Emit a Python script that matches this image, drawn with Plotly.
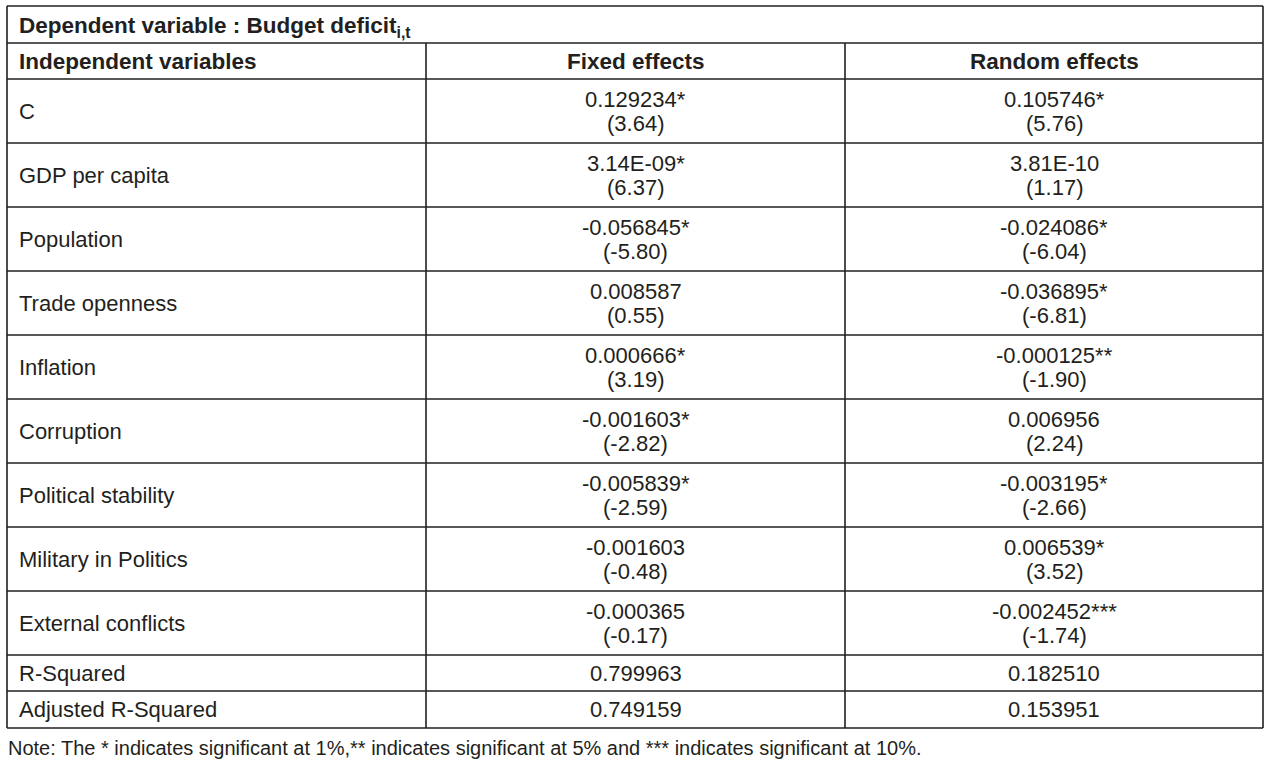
import plotly.graph_objects as go

# ---- data ----
variables = ["C", "GDP per capita", "Population", "Trade openness", "Inflation",
             "Corruption", "Political stability", "Military in Politics", "External conflicts"]
fe_coef = ["0.129234*", "3.14E-09*", "-0.056845*", "0.008587", "0.000666*",
           "-0.001603*", "-0.005839*", "-0.001603", "-0.000365"]
fe_t = ["(3.64)", "(6.37)", "(-5.80)", "(0.55)", "(3.19)",
        "(-2.82)", "(-2.59)", "(-0.48)", "(-0.17)"]
re_coef = ["0.105746*", "3.81E-10", "-0.024086*", "-0.036895*", "-0.000125**",
           "0.006956", "-0.003195*", "0.006539*", "-0.002452***"]
re_t = ["(5.76)", "(1.17)", "(-6.04)", "(-6.81)", "(-1.90)",
        "(2.24)", "(-2.66)", "(3.52)", "(-1.74)"]
fit_names = ["R-Squared", "Adjusted R-Squared"]
fe_fit = ["0.799963", "0.749159"]
re_fit = ["0.182510", "0.153951"]

title_text = "Dependent variable : Budget deficit"
title_sub = "i,t"
col_headers = ["Independent variables", "Fixed effects", "Random effects"]
note = ("Note: The * indicates significant at 1%,** indicates significant at 5% "
        "and *** indicates significant at 10%.")

# ---- layout geometry ----
W, H = 1271, 767
x_left, x_c1, x_c2, x_right = 7, 426, 845, 1263
y_top, y_h1, y_h2 = 6, 43, 79
row_h = 64
fit_h = [36, 37]
FONT = "Liberation Sans"
TXT = "#231f20"
LINE = "#231f20"
FS = 22
FSB = 22.5

row_edges = [y_h2 + i * row_h for i in range(len(variables) + 1)]
fit_edges = [row_edges[-1]]
for h in fit_h:
    fit_edges.append(fit_edges[-1] + h)
y_bottom = fit_edges[-1]

fig = go.Figure()
fig.add_trace(go.Scatter(x=[0, W], y=[0, H], mode="markers",
                         marker=dict(opacity=0), hoverinfo="skip", showlegend=False))

shapes = []
def hline(y, x0=x_left, x1=x_right):
    shapes.append(dict(type="line", xref="x", yref="y", x0=x0, x1=x1, y0=y, y1=y,
                       line=dict(color=LINE, width=1.6)))
def vline(x, y0, y1):
    shapes.append(dict(type="line", xref="x", yref="y", x0=x, x1=x, y0=y0, y1=y1,
                       line=dict(color=LINE, width=1.6)))

for y in [y_top, y_h1, y_h2] + row_edges[1:] + fit_edges[1:]:
    hline(y)
vline(x_left, y_top, y_bottom)
vline(x_right, y_top, y_bottom)
vline(x_c1, y_h1, y_bottom)
vline(x_c2, y_h1, y_bottom)

ann = []
def text(x, y, s, anchor="center", bold=False, size=FS):
    ann.append(dict(x=x, y=y, xref="x", yref="y", text=f"<b>{s}</b>" if bold else s,
                    showarrow=False, xanchor=anchor, yanchor="middle",
                    font=dict(family=FONT, size=size, color=TXT)))

cx1 = (x_c1 + x_c2) / 2
cx2 = (x_c2 + x_right) / 2
lx = 17

text(lx, (y_top + y_h1) / 2 + 2, f"{title_text}<sub>{title_sub}</sub>", anchor="left", bold=True, size=FSB)
hy = (y_h1 + y_h2) / 2
text(lx, hy, col_headers[0], anchor="left", bold=True, size=FSB)
text(cx1, hy, col_headers[1], bold=True, size=FSB)
text(cx2, hy, col_headers[2], bold=True, size=FSB)

for i, name in enumerate(variables):
    mid = (row_edges[i] + row_edges[i + 1]) / 2
    text(lx, mid, name, anchor="left")
    text(cx1, mid - 12, fe_coef[i])
    text(cx1, mid + 12, fe_t[i])
    text(cx2, mid - 12, re_coef[i])
    text(cx2, mid + 12, re_t[i])

for i, name in enumerate(fit_names):
    mid = (fit_edges[i] + fit_edges[i + 1]) / 2
    text(lx, mid, name, anchor="left")
    text(cx1, mid, fe_fit[i])
    text(cx2, mid, re_fit[i])

text(6, 748, note, anchor="left", size=20)

fig.update_layout(
    width=W, height=H, autosize=False,
    margin=dict(l=0, r=0, t=0, b=0),
    paper_bgcolor="white", plot_bgcolor="white",
    xaxis=dict(range=[0, W], visible=False, fixedrange=True),
    yaxis=dict(range=[H, 0], visible=False, fixedrange=True),
    shapes=shapes, annotations=ann, showlegend=False,
)
fig.write_html("out.html", config={"displayModeBar": False},
               post_script="document.body.style.margin='0px';document.body.style.overflow='hidden';")
